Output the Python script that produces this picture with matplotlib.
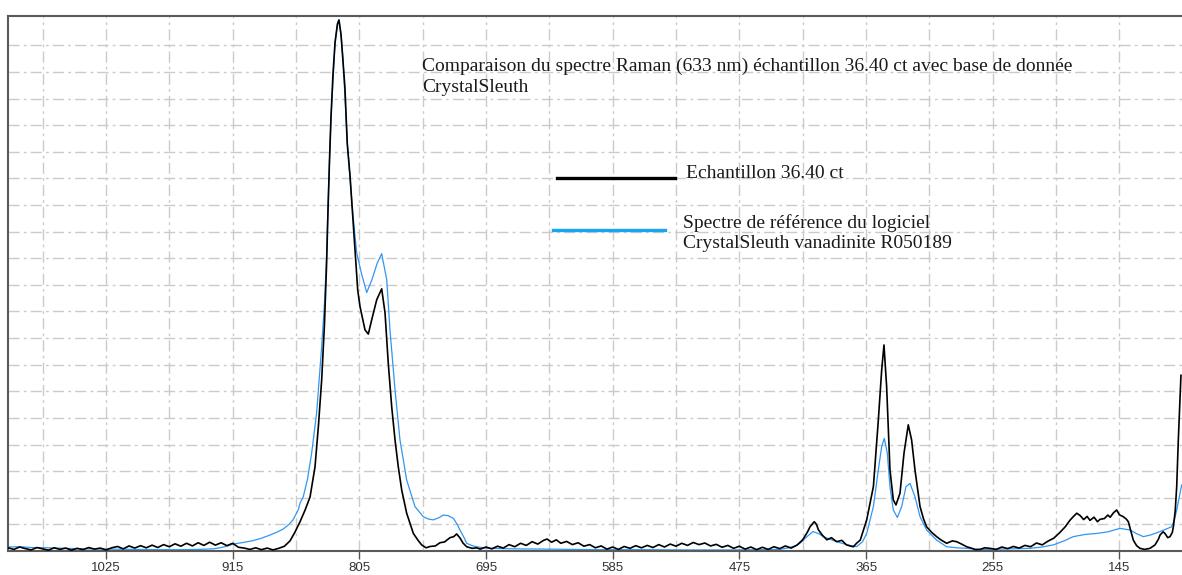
import matplotlib.pyplot as plt
from matplotlib.lines import Line2D

# Raman shift (cm-1) and intensity (1 unit = 1 horizontal grid step)
black_x = [1110, 1105, 1100, 1095, 1090, 1085, 1080, 1075, 1070, 1065, 1060, 1055, 1050, 1045,
           1040, 1035, 1030, 1025, 1020, 1015, 1010, 1005, 1000, 995, 990, 985, 980, 975, 970,
           965, 960, 955, 950, 945, 940, 935, 930, 925, 920, 915, 910, 905, 900, 895, 890, 885,
           880, 875, 870,
           865.2, 861, 856.5, 852, 847.8, 843.5, 840.6, 837.7, 835.3, 833.5, 832.2, 830.9, 829.6,
           827.9, 826.1, 824.0, 822.7, 820.9, 819.2, 817.5, 815.5, 813.1, 811.1, 808.8, 806.4,
           804.4, 800.1, 797.2, 794.3, 789.9, 785.6, 782.7, 779.9, 776.9, 774.0, 771.2, 768.2,
           763.9, 758.1, 754, 750.9, 747, 743.6, 739, 735.0, 731, 726.3, 723, 720.5, 717.6, 715,
           711.8, 707, 703.1,
           700, 695, 690, 685, 680, 675, 670, 665, 660, 655, 650, 645, 642, 638, 634, 630, 625,
           620, 615, 610, 605, 600, 595, 590, 585, 580, 575, 570, 565, 560, 555, 550, 545, 540,
           535, 530, 525, 520, 515, 510, 505, 500, 495, 490, 485, 480, 475, 470, 465, 460, 455,
           450, 445, 440, 435, 430, 425, 420, 416, 413.6, 410, 408, 406.4, 403, 399, 395, 390.5,
           386, 382, 378, 376, 373, 370,
           364.4, 358.6, 354.3, 351.4, 349.4, 347.1, 344.2, 341.3, 339.0, 335.5, 332.0, 328.3,
           325.4, 322.5, 318.1, 315, 312.4, 308, 303.7, 300, 295, 290, 286.3, 282, 277.6, 273,
           270, 266, 262, 257.4, 252, 247, 242, 237, 232, 227, 222, 217, 212, 207, 202, 197, 192,
           188, 185, 182, 179, 176, 173, 170.5, 167, 164, 161.8, 158, 155, 153, 150, 147.3, 145,
           141.6, 139, 137.2, 135, 132.9, 130, 127.1, 123, 118.4, 114, 111, 109.7, 107, 105.4,
           103, 101, 99, 98.1, 96.5, 95.2, 93.8, 92.5, 91.5]
black_y = [0.12, 0.06, 0.15, 0.09, 0.04, 0.13, 0.08, 0.03, 0.12, 0.06, 0.11, 0.03, 0.10, 0.05,
           0.13, 0.07, 0.11, 0.04, 0.12, 0.17, 0.08, 0.19, 0.11, 0.20, 0.12, 0.22, 0.13, 0.24, 0.16,
           0.27, 0.18, 0.29, 0.19, 0.31, 0.21, 0.33, 0.22, 0.31, 0.20, 0.29, 0.14, 0.11, 0.06, 0.12,
           0.05, 0.11, 0.04, 0.10, 0.18,
           0.38, 0.70, 1.10, 1.55, 2.03, 3.16, 4.66, 6.43, 8.50, 10.7, 12.8, 14.7, 16.3,
           17.9, 19.1, 19.8, 19.95, 19.4, 18.4, 17.4, 15.3, 14.1, 12.8, 11.3, 9.8,
           9.18, 8.31, 8.15, 8.68, 9.44, 9.85, 8.95, 7.07, 5.42, 4.17, 3.17, 2.29,
           1.42, 0.66, 0.40, 0.23, 0.12, 0.17, 0.19, 0.31, 0.34, 0.50, 0.54, 0.64, 0.49, 0.30,
           0.16, 0.10, 0.12,
           0.07, 0.15, 0.08, 0.18, 0.11, 0.24, 0.16, 0.29, 0.21, 0.35, 0.26, 0.40, 0.45, 0.33, 0.42,
           0.29, 0.36, 0.24, 0.31, 0.18, 0.24, 0.12, 0.19, 0.07, 0.15, 0.06, 0.17, 0.10, 0.20, 0.12,
           0.21, 0.13, 0.24, 0.15, 0.26, 0.18, 0.29, 0.21, 0.32, 0.24, 0.30, 0.19, 0.25, 0.14, 0.21,
           0.10, 0.18, 0.07, 0.15, 0.05, 0.14, 0.06, 0.16, 0.09, 0.19, 0.11, 0.22, 0.42, 0.70, 0.91,
           1.10, 1.00, 0.80, 0.60, 0.42, 0.50, 0.35, 0.40, 0.23, 0.18, 0.16, 0.30, 0.41,
           1.17, 2.42, 4.92, 6.80, 7.74, 6.18, 3.05, 1.92, 1.73, 2.17, 3.68, 4.74,
           4.17, 3.05, 1.67, 1.20, 0.91, 0.70, 0.54, 0.42, 0.29, 0.38, 0.35, 0.26, 0.16, 0.10,
           0.05, 0.06, 0.12, 0.10, 0.06, 0.15, 0.09, 0.17, 0.11, 0.21, 0.16, 0.30, 0.23, 0.37, 0.48,
           0.68, 0.91, 1.15, 1.29, 1.42, 1.33, 1.18, 1.30, 1.15, 1.27, 1.10, 1.19, 1.22, 1.35, 1.27,
           1.44, 1.54, 1.36, 1.29, 1.20, 1.10, 0.75, 0.41, 0.20, 0.10, 0.06, 0.10, 0.23, 0.45, 0.60,
           0.72, 0.66, 0.50, 0.54, 0.70, 0.91, 1.50, 2.42, 4.17, 5.50, 6.60]

blue_x = [1110, 1100, 1090, 1075, 1060, 1040, 1020, 1000, 980, 960, 945, 932, 925, 920, 914.7,
          906, 897.3, 890, 882.6, 877, 871.3, 866, 862.6, 858, 856.5, 853.7, 850, 846.4, 842.1,
          837.7, 835.3, 833.5, 832.2, 829.6, 826.1, 824.0, 822.7, 820.9, 819.2, 815.5, 811.1,
          807.3, 803.0, 798.6, 794.0, 789.6, 785.6, 781.2, 778.4, 774.0, 769.7, 763.9, 756.7,
          749.5, 745, 740.7, 736, 732.1, 728, 723.4, 720, 717.6, 714, 711.8, 707, 703.1, 697,
          691.5, 670, 640, 600, 560, 520, 480, 450, 439.7, 432, 426, 422.4, 416, 411.0, 406,
          402.2, 395, 387.6, 380, 373.2, 368, 364.4, 358.6, 354.3, 351.4, 349.1, 346.5, 344.2,
          341.3, 337.8, 334.0, 330.3, 326.8, 322.5, 318.1, 312.4, 303.7, 295.0, 286, 277.6,
          266.0, 250, 222.6, 212, 202.3, 193, 185.0, 175, 164.7, 155, 144.5, 135.8, 130, 124.2,
          118, 109.7, 99.6, 97, 95.2, 90.9]
blue_y = [0.15, 0.16, 0.13, 0.12, 0.10, 0.08, 0.07, 0.06, 0.05, 0.05, 0.06, 0.08, 0.13, 0.18, 0.26,
          0.32, 0.39, 0.48, 0.60, 0.70, 0.82, 1.00, 1.17, 1.55, 1.80, 2.04, 2.70, 3.68, 5.18,
          7.68, 9.30, 11.0, 13.0, 16.3, 19.1, 19.8, 19.95, 19.4, 18.5, 15.4, 12.9,
          11.2, 10.4, 9.71, 10.2, 10.8, 11.17, 10.19, 8.31, 6.05, 4.17, 2.67, 1.67,
          1.29, 1.20, 1.17, 1.25, 1.35, 1.33, 1.23, 1.00, 0.79, 0.50, 0.29, 0.20, 0.16, 0.12,
          0.10, 0.08, 0.07, 0.05, 0.05, 0.04, 0.04, 0.05, 0.06, 0.12, 0.20, 0.29, 0.55, 0.73, 0.65,
          0.54, 0.42, 0.31, 0.22, 0.16, 0.35, 0.66, 1.67, 3.05, 3.92, 4.23, 3.67, 2.42,
          1.54, 1.26, 1.67, 2.42, 2.54, 2.04, 1.29, 0.79, 0.41, 0.16, 0.12, 0.10,
          0.06, 0.07, 0.10, 0.15, 0.23, 0.38, 0.54, 0.62, 0.66, 0.72, 0.85, 0.79, 0.65, 0.54,
          0.60, 0.73, 0.91, 1.20, 1.54, 2.48]

tick_vals = [1025, 915, 805, 695, 585, 475, 365, 255, 145]
grid_vals = [1080, 1025, 970, 915, 860, 805, 750, 695, 640, 585, 530, 475, 420, 365, 310, 255, 200, 145]

title = "Comparaison du spectre Raman (633 nm) échantillon 36.40 ct avec base de donnée\nCrystalSleuth"
label_black = "Echantillon 36.40 ct"
label_blue = "Spectre de référence du logiciel\nCrystalSleuth vanadinite R050189"

W, H = 1182, 575
fig = plt.figure(figsize=(W / 100, H / 100), dpi=100)
ax = fig.add_axes([8 / W, 1 - 551 / H, 1 - 8 / W, (551 - 16) / H])

grid_style = dict(color='#cbcbcb', lw=1, linestyle=(0, (8, 3, 2, 3)), zorder=0)
for g in grid_vals:
    ax.axvline(g, **grid_style)
for k in range(1, 20):
    ax.axhline(k, **grid_style)

ax.plot(blue_x, blue_y, color='#3196f2', lw=0.9, zorder=2)
ax.plot(black_x, black_y, color='black', lw=1.2, zorder=3)

ax.set_xlim(1110.1, 90.6)
ax.set_ylim(0, 20.1)
ax.set_xticks(tick_vals)
ax.set_xticklabels([str(t) for t in tick_vals], fontsize=9.5, color='#333333', family='Liberation Sans')
ax.tick_params(axis='x', direction='out', length=6, width=1, color='#555555', pad=2)
ax.set_yticks([])
for s in ['left', 'bottom', 'top']:
    ax.spines[s].set_color('#5a5a5a')
    ax.spines[s].set_linewidth(1.5)
ax.spines['right'].set_visible(False)

# title and hand-made legend, placed in figure pixels
def fx(px):
    return px / W

def fy(py):
    return 1 - py / H

serif = dict(family='Liberation Serif', fontsize=14, color='#1a1a1a')
fig.text(fx(422), fy(58), title, va='top', ha='left', linespacing=1.25, **serif)

fig.add_artist(Line2D([fx(557), fx(675)], [fy(178), fy(178)], color='black', lw=2.4))
fig.text(fx(686), fy(174), label_black, va='center', ha='left', **serif)
fig.add_artist(Line2D([fx(553), fx(665)], [fy(230), fy(230)], color='#16a6ee', lw=2.4))
fig.text(fx(683), fy(214), label_blue, va='top', ha='left', linespacing=1.25, **serif)

fig.savefig('out.png', dpi=100)
